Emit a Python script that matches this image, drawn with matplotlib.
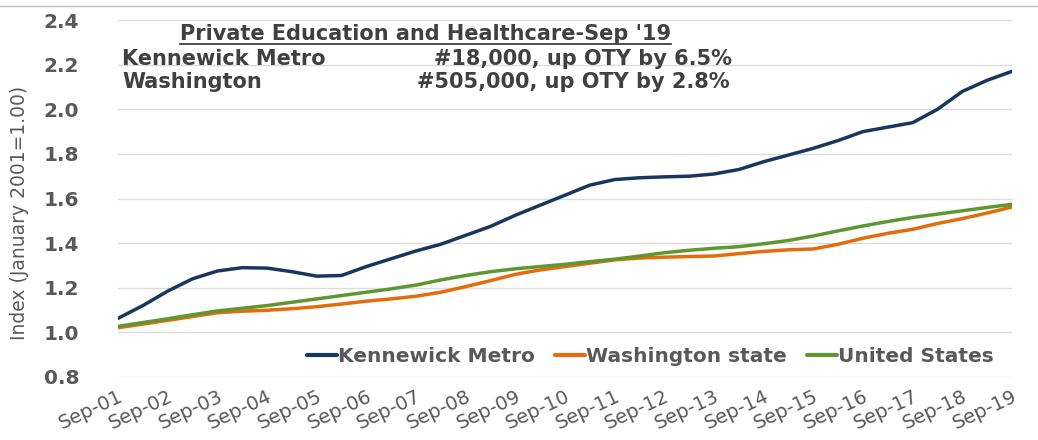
import matplotlib
matplotlib.use("Agg")
import matplotlib.pyplot as plt
from matplotlib.lines import Line2D

# semi-annual readings, Sep-01 .. Sep-19
years = [i / 2 for i in range(37)]
kennewick = [1.063, 1.12, 1.185, 1.24, 1.275, 1.29, 1.288, 1.272, 1.252, 1.255,
             1.295, 1.33, 1.365, 1.395, 1.435, 1.475, 1.525, 1.57, 1.615, 1.66,
             1.685, 1.693, 1.697, 1.70, 1.71, 1.73, 1.765, 1.795, 1.825, 1.86,
             1.90, 1.92, 1.94, 2.0, 2.08, 2.13, 2.17]
washington = [1.021, 1.037, 1.054, 1.071, 1.088, 1.095, 1.099, 1.106, 1.115, 1.127,
              1.14, 1.15, 1.162, 1.18, 1.205, 1.232, 1.26, 1.28, 1.295, 1.31,
              1.325, 1.333, 1.337, 1.34, 1.342, 1.353, 1.363, 1.37, 1.374, 1.395,
              1.422, 1.444, 1.462, 1.488, 1.51, 1.535, 1.562]
united_states = [1.027, 1.044, 1.061, 1.079, 1.096, 1.108, 1.12, 1.135, 1.15, 1.165,
                 1.18, 1.195, 1.212, 1.235, 1.255, 1.272, 1.285, 1.295, 1.305, 1.317,
                 1.328, 1.342, 1.357, 1.368, 1.377, 1.384, 1.397, 1.412, 1.432, 1.455,
                 1.477, 1.497, 1.515, 1.53, 1.545, 1.56, 1.574]
tick_labels = ["Sep-%02d" % y for y in range(1, 20)]
series_names = ["Kennewick Metro", "Washington state", "United States"]

plt.rcParams["font.family"] = ["DejaVu Sans"]
grey = "#595959"
dark = "#404040"

fig = plt.figure(figsize=(10.38, 4.4), dpi=100)
ax = fig.add_axes([0.1137, 0.1432, 0.8613, 0.8113])

colors = ["#17375E", "#E46C0A", "#5E9732"]
for vals, name, c in zip([kennewick, washington, united_states], series_names, colors):
    ax.plot(years, vals, color=c, lw=2.5, label=name, solid_capstyle="round")

ax.set_xlim(0, 18)
ax.set_ylim(0.8, 2.4)
ax.set_yticks([0.8, 1.0, 1.2, 1.4, 1.6, 1.8, 2.0, 2.2, 2.4])
ax.set_yticklabels(["%.1f" % v for v in ax.get_yticks()], fontsize=14.5,
                   fontweight="bold", color=grey)
ax.set_xticks(range(19))
ax.set_xticklabels(tick_labels, rotation=25, ha="right", rotation_mode="anchor",
                   fontsize=14, color=grey)
ax.tick_params(axis="both", length=0)
ax.tick_params(axis="y", pad=28)
ax.tick_params(axis="x", pad=7)
ax.grid(axis="y", color="#dcdcdc", lw=1)
for s in ax.spines.values():
    s.set_visible(False)

ax.set_ylabel("Index (January 2001=1.00)", fontsize=13.5, color=grey)
ax.yaxis.set_label_coords(-0.100, 0.46)

leg = ax.legend(loc="lower right", bbox_to_anchor=(1.0, -0.02), ncol=3, frameon=False,
                handlelength=1.5, handletextpad=0.05, columnspacing=1.0,
                prop={"size": 14.5, "weight": "bold"})
for t in leg.get_texts():
    t.set_color(grey)
for h in leg.get_lines():
    h.set_linewidth(3)

# header text block
hsize = 15
title = fig.text(0.41, 0.909, "Private Education and Healthcare-Sep '19", ha="center",
                 va="baseline", fontsize=hsize, fontweight="bold", color=dark)
fig.text(0.118, 0.852, "Kennewick Metro", fontsize=hsize, fontweight="bold", color=dark)
fig.text(0.118, 0.80, "Washington", fontsize=hsize, fontweight="bold", color=dark)
fig.text(0.705, 0.852, "#18,000, up OTY by 6.5%", ha="right", fontsize=hsize,
         fontweight="bold", color=dark)
fig.text(0.703, 0.80, "#505,000, up OTY by 2.8%", ha="right", fontsize=hsize,
         fontweight="bold", color=dark)

fig.canvas.draw()
bb = title.get_window_extent().transformed(fig.transFigure.inverted())
fig.add_artist(Line2D([bb.x0, bb.x1], [0.901, 0.901], color=dark, lw=1.3))
fig.add_artist(Line2D([0, 1], [0.987, 0.987], color="#bfbfbf", lw=1))

fig.savefig("out.png", dpi=100)
